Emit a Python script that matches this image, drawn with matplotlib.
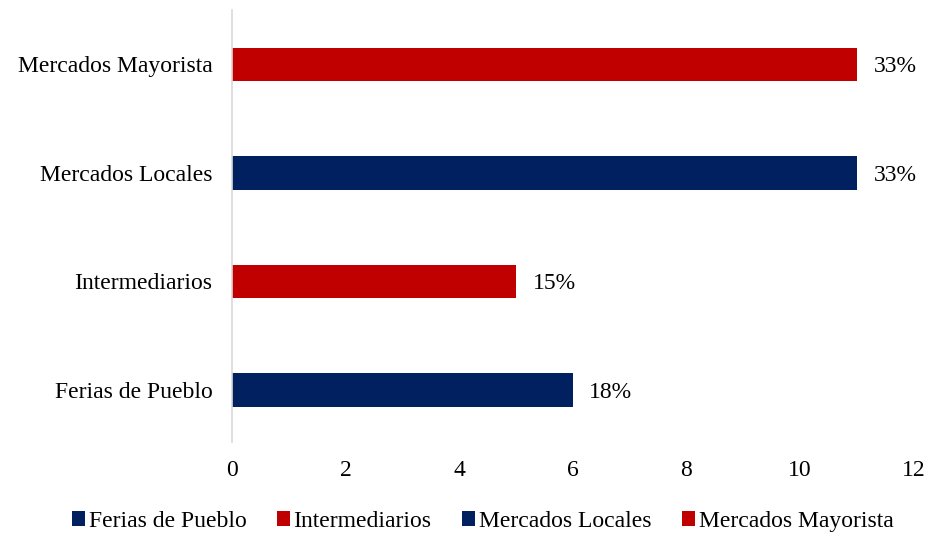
import matplotlib
matplotlib.use("Agg")
import matplotlib.pyplot as plt
from matplotlib.patches import Patch

categories = ["Ferias de Pueblo", "Intermediarios", "Mercados Locales", "Mercados Mayorista"]
values = [6, 5, 11, 11]
pct_labels = ["18%", "15%", "33%", "33%"]
colors = ["#002060", "#C00000", "#002060", "#C00000"]
xticks = [0, 2, 4, 6, 8, 10, 12]

plt.rcParams['font.family'] = ['Liberation Serif', 'DejaVu Serif']

fig = plt.figure(figsize=(9.3, 5.33), dpi=100)
ax = fig.add_axes([0.2495, 0.171, 0.733, 0.81])

y = list(range(len(categories)))
bars = ax.barh(y, values, height=0.31, color=colors)
for b, lab in zip(bars, pct_labels):
    ax.text(b.get_width() + 0.29, b.get_y() + b.get_height() / 2, lab,
            va="center_baseline", ha="left", fontsize=17)

ax.set_xlim(0, 12)
ax.set_ylim(-0.48, 3.5)
ax.set_xticks(xticks)
ax.set_xticklabels([str(t) for t in xticks], fontsize=17)
ax.set_yticks(y)
ax.set_yticklabels(categories, fontsize=17)
ax.tick_params(axis="both", length=0)
ax.tick_params(axis="y", pad=14)
ax.tick_params(axis="x", pad=13)
for s in ["top", "right", "bottom"]:
    ax.spines[s].set_visible(False)
ax.spines["left"].set_color("#D9D9D9")
ax.spines["left"].set_linewidth(1.2)

handles = [Patch(facecolor=c, label=l) for c, l in zip(colors, categories)]
fig.legend(handles=handles, loc="center", bbox_to_anchor=(0.519, 0.022), ncol=4,
           frameon=False, fontsize=17, handlelength=0.55, handleheight=0.55,
           handletextpad=0.15, columnspacing=1.3)

fig.savefig("out.png", dpi=100)
